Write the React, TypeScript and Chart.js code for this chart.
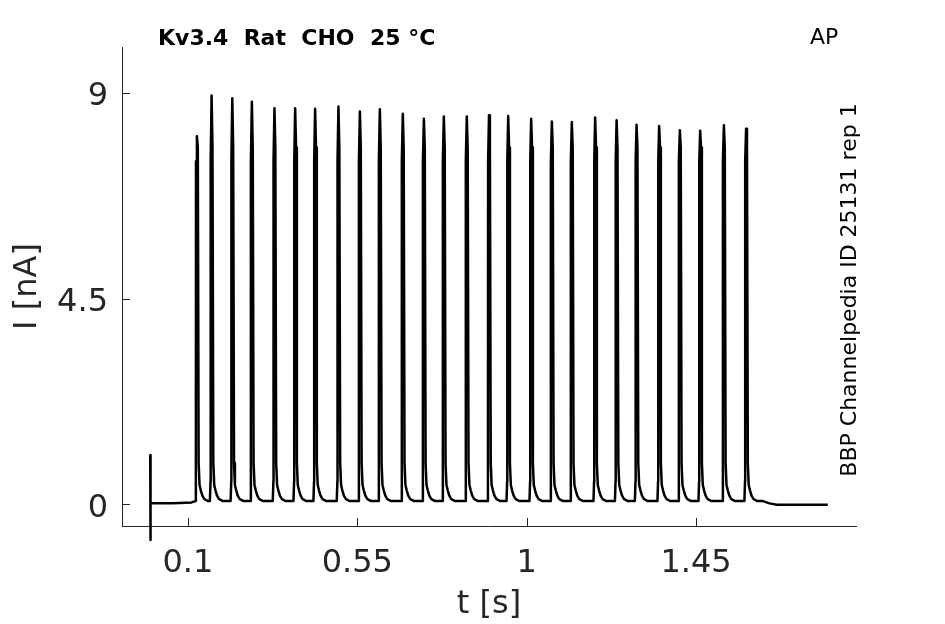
import React, { useEffect, useRef } from "react";
import { Chart, registerables } from "chart.js";

Chart.register(...registerables);

// ---- data ----
const xTickValues = [0.1, 0.55, 1, 1.45];
const yTickValues = [0, 4.5, 9];

// AP-evoked spikes: time of peak [s] and peak current [nA]
const spikeTimes = [
  0.124, 0.163, 0.218, 0.27, 0.33, 0.385, 0.438, 0.5, 0.557, 0.61, 0.671, 0.727, 0.78, 0.841,
  0.9, 0.951, 1.012, 1.067, 1.12, 1.182, 1.239, 1.292, 1.352, 1.407, 1.461, 1.524, 1.583,
];
const spikePeaks = [
  8.05, 8.94, 8.88, 8.8, 8.66, 8.66, 8.65, 8.7, 8.59, 8.64, 8.54, 8.43, 8.48, 8.48,
  8.51, 8.49, 8.43, 8.37, 8.36, 8.46, 8.4, 8.3, 8.27, 8.18, 8.17, 8.29, 8.21,
];
// shape of the trace around each spike (offsets from peak time, current levels)
const preOffsets = [-0.0045, -0.0028, -0.0024];
const preLevels = [0.07, 0.5, 7.5];
const postOffsets = [0.0024, 0.0046, 0.007, 0.0105, 0.0145, 0.02, 0.03];
const postLevels = [7.8, 0.9, 0.42, 0.3, 0.19, 0.11, 0.07];

// beginning (capacitive artefact) and end of the trace
const leadTimes = [0, 0.0004, 0.0012, 0.06, 0.11];
const leadValues = [1.08, -0.78, 0.02, 0.02, 0.04];
const trailTimes = [1.628, 1.645, 1.665, 1.73, 1.8];
const trailValues = [0.07, 0.02, -0.01, -0.01, -0.01];

const xMin = -0.075;
const xMax = 1.875;
const yMin = -0.475;
const yMax = 10;

function buildTrace() {
  const pts: { x: number; y: number }[] = [];
  leadTimes.forEach((t, i) => pts.push({ x: t, y: leadValues[i] }));
  spikeTimes.forEach((t, i) => {
    preOffsets.forEach((o, j) => pts.push({ x: t + o, y: preLevels[j] }));
    pts.push({ x: t, y: spikePeaks[i] });
    postOffsets.forEach((o, j) => pts.push({ x: t + o, y: postLevels[j] }));
  });
  trailTimes.forEach((t, i) => pts.push({ x: t, y: trailValues[i] }));
  return pts;
}

const AXIS = "#262626";
const FONT = "'DejaVu Sans', sans-serif";

const tickMarks = {
  id: "tickMarks",
  beforeDatasetsDraw(chart: any) {
    const { ctx, chartArea } = chart;
    const xs = chart.scales.x;
    const ys = chart.scales.y;
    ctx.save();
    ctx.strokeStyle = AXIS;
    ctx.lineWidth = 1;
    ctx.beginPath();
    xTickValues.forEach((v) => {
      const px = Math.round(xs.getPixelForValue(v)) + 0.5;
      ctx.moveTo(px, chartArea.bottom);
      ctx.lineTo(px, chartArea.bottom - 8);
    });
    yTickValues.forEach((v) => {
      const py = Math.round(ys.getPixelForValue(v)) + 0.5;
      ctx.moveTo(chartArea.left, py);
      ctx.lineTo(chartArea.left + 8, py);
    });
    ctx.stroke();
    ctx.restore();
  },
};

const texts = {
  id: "texts",
  afterDraw(chart: any) {
    const { ctx } = chart;
    ctx.save();
    ctx.fillStyle = "#000";
    ctx.textBaseline = "middle";
    ctx.textAlign = "left";
    ctx.font = `bold 22px ${FONT}`;
    ctx.fillText("Kv3.4  Rat  CHO  25 °C", 158, 39);
    ctx.font = `22px ${FONT}`;
    ctx.fillText("AP", 810, 38);
    ctx.translate(850, 290);
    ctx.rotate(-Math.PI / 2);
    ctx.textAlign = "center";
    ctx.fillText("BBP Channelpedia ID 25131 rep 1", 0, 0);
    ctx.restore();
  },
};

export default function App() {
  const ref = useRef<HTMLCanvasElement>(null);
  useEffect(() => {
    const chart = new Chart(ref.current as HTMLCanvasElement, {
      type: "line",
      data: {
        datasets: [
          {
            data: buildTrace(),
            borderColor: "#000",
            borderWidth: 2.5,
            borderJoinStyle: "round",
            pointRadius: 0,
            tension: 0,
            fill: false,
            clip: false as any,
          },
        ],
      },
      options: {
        animation: false,
        responsive: false,
        events: [],
        layout: { padding: { top: 47, right: 89, left: 0, bottom: 0 } },
        plugins: { legend: { display: false }, tooltip: { enabled: false } },
        scales: {
          x: {
            type: "linear",
            min: xMin,
            max: xMax,
            afterBuildTicks: (s: any) => {
              s.ticks = xTickValues.map((v) => ({ value: v }));
            },
            afterFit: (s: any) => {
              s.height = 98;
            },
            ticks: {
              autoSkip: false,
              maxRotation: 0,
              color: AXIS,
              padding: 18,
              font: { family: FONT, size: 32 },
              callback: (v: any) => String(v),
            },
            grid: { display: true, drawOnChartArea: false, drawTicks: false, color: "rgba(0,0,0,0)" },
            border: { display: true, color: AXIS, width: 1 },
            title: {
              display: true,
              text: "t [s]",
              color: AXIS,
              font: { family: FONT, size: 32 },
              padding: { top: 0, bottom: 0 },
            },
          },
          y: {
            type: "linear",
            min: yMin,
            max: yMax,
            afterBuildTicks: (s: any) => {
              s.ticks = yTickValues.map((v) => ({ value: v }));
            },
            afterFit: (s: any) => {
              s.width = 122;
            },
            ticks: {
              autoSkip: false,
              color: AXIS,
              padding: 14,
              labelOffset: 4,
              font: { family: FONT, size: 32 },
              callback: (v: any) => String(v),
            },
            grid: { display: true, drawOnChartArea: false, drawTicks: false, color: "rgba(0,0,0,0)" },
            border: { display: true, color: AXIS, width: 1 },
            title: {
              display: true,
              text: "I [nA]",
              color: AXIS,
              font: { family: FONT, size: 32 },
              padding: { top: 8, bottom: 0 },
            },
          },
        },
      },
      plugins: [tickMarks, texts],
    });
    return () => chart.destroy();
  }, []);
  return (
    <div style={{ position: "fixed", left: 0, top: 0, width: 945, height: 624, background: "#fff" }}>
      <canvas ref={ref} width={945} height={624} style={{ width: 945, height: 624, display: "block" }} />
    </div>
  );
}
